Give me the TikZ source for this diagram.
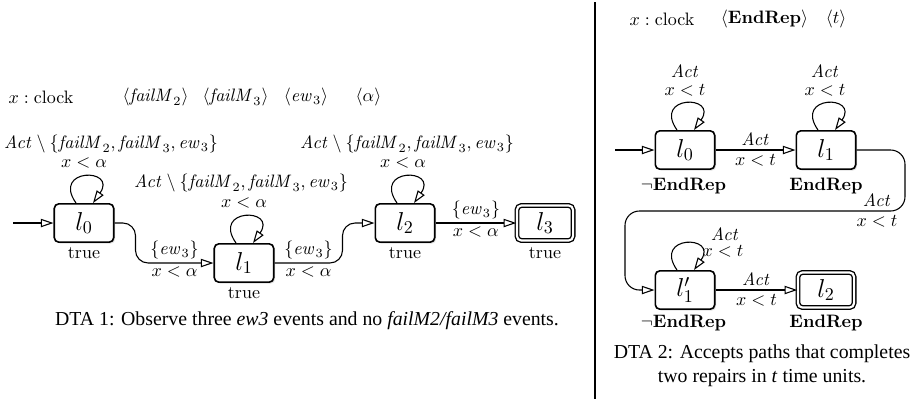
\documentclass[tikz,border=0pt]{standalone}
\usepackage[no-math]{fontspec}
\newfontfamily\capfont{Liberation Serif}
\usetikzlibrary{arrows.meta,shadows,calc}
\newcommand{\ev}[1]{\mathit{#1}}

\begin{document}
\begin{tikzpicture}[x=0.5556pt,y=-0.5556pt,
  loc/.style={draw, line width=0.9pt, rounded corners=2.5pt, fill=white,
    minimum width=33pt, minimum height=21.3pt, inner sep=0pt, font=\Large,
    drop shadow={shadow xshift=0.8pt, shadow yshift=-0.8pt, opacity=0.25}},
  final/.style={loc, double, double distance=1.2pt, line width=0.75pt,
    minimum width=31.2pt, minimum height=19.5pt},
  edge/.style={draw, line width=0.6pt, -{Triangle[open,length=7pt,width=4.6pt]}},
  lbl/.style={inner sep=0pt},
  elbl/.style={inner sep=2pt},
  captext/.style={font=\capfont\fontsize{11}{13.3}\selectfont, align=center},
  selfloop/.style={out=125, in=55, looseness=6.5}
]
\useasboundingbox (0,0) rectangle (917,399);

% ---------- DTA 1 ----------
\node[lbl] (clk1) at (41,97) {$x : \mbox{clock}$};
\node[lbl] (p1) at (155.5,97) {$\langle \ev{failM}_2\rangle$};
\node[lbl] (p2) at (235.5,97) {$\langle \ev{failM}_3\rangle$};
\node[lbl] (p3) at (306,97) {$\langle \ev{ew}_3\rangle$};
\node[lbl] (p4) at (368.5,97) {$\langle \alpha\rangle$};

\node[loc] (a0) at (84,223) {$l_0$};
\node[loc] (a1) at (244,263) {$l_1$};
\node[loc] (a2) at (405,223) {$l_2$};
\node[final] (a3) at (545,223) {$l_3$};

\node[lbl] (ta0) at (84,253) {true};
\node[lbl] (ta1) at (244,293) {true};
\node[lbl] (ta2) at (405,253) {true};
\node[lbl] (ta3) at (545,253) {true};

\coordinate (s1) at (13,223);
\draw[edge] (s1) -- (a0);

\draw[edge] ($(a0.north)+(-8,0)$) to[selfloop] ($(a0.north)+(9,0)$);
\node[lbl] (g0) at (84,163) {$x<\alpha$};
\node[lbl] (e0) at (111,144) {$\ev{Act}\setminus\{\ev{failM}_2, \ev{failM}_3, \ev{ew}_3\}$};

\draw[edge] ($(a1.north)+(-8,0)$) to[selfloop] ($(a1.north)+(9,0)$);
\node[lbl] (g1) at (244,203) {$x<\alpha$};
\node[lbl] (e1) at (241,183) {$\ev{Act}\setminus\{\ev{failM}_2, \ev{failM}_3, \ev{ew}_3\}$};

\draw[edge] ($(a2.north)+(-8,0)$) to[selfloop] ($(a2.north)+(9,0)$);
\node[lbl] (g2) at (403,163) {$x<\alpha$};
\node[lbl] (e2) at (407,144) {$\ev{Act}\setminus\{\ev{failM}_2, \ev{failM}_3, \ev{ew}_3\}$};

\draw[edge, rounded corners=7pt] (a0.east) -| ($(a1.west)+(-78,0)$)
  -- node[elbl,above]{$\{\ev{ew}_3\}$} node[elbl,below]{$x<\alpha$} (a1.west);
\draw[edge, rounded corners=7pt] (a1.east)
  -| node[pos=0.25,elbl,above]{$\{\ev{ew}_3\}$} node[pos=0.25,elbl,below]{$x<\alpha$}
     ($(a2.west)+(-32,0)$) -- (a2.west);
\draw[edge] (a2) -- node[elbl,above]{$\{\ev{ew}_3\}$} node[elbl,below]{$x<\alpha$} (a3);

\node[captext] (cap1) at (307,321)
  {DTA 1: Observe three \textit{ew3} events and no \textit{failM2/failM3} events.};

% ---------- separator ----------
\draw[line width=0.8pt] (595,2) -- (595,399);

% ---------- DTA 2 ----------
\node[lbl] (clk2) at (662,19) {$x : \mbox{clock}$};
\node[lbl] (q1) at (764.5,19) {$\langle \mathbf{EndRep}\rangle$};
\node[lbl] (q2) at (836,19) {$\langle t\rangle$};

\node[loc] (b0) at (685,150) {$l_0$};
\node[loc] (b1) at (826,150) {$l_1$};
\node[loc] (b2) at (685,290) {$l_1'$};
\node[final] (b3) at (826,290) {$l_2$};

\node[lbl] (tb0) at (683.5,186) {$\neg\mathbf{EndRep}$};
\node[lbl] (tb1) at (826,186) {$\mathbf{EndRep}$};
\node[lbl] (tb2) at (683.5,323) {$\neg\mathbf{EndRep}$};
\node[lbl] (tb3) at (826,323) {$\mathbf{EndRep}$};

\coordinate (s2) at (615,150);
\draw[edge] (s2) -- (b0);

\draw[edge] ($(b0.north)+(-8,0)$) to[selfloop] ($(b0.north)+(9,0)$);
\node[lbl] (h0) at (685,71) {$\ev{Act}$};
\node[lbl] (k0) at (685,90) {$x<t$};

\draw[edge] ($(b1.north)+(-8,0)$) to[selfloop] ($(b1.north)+(9,0)$);
\node[lbl] (h1) at (825,71) {$\ev{Act}$};
\node[lbl] (k1l) at (825,90) {$x<t$};

\draw[edge] ($(b2.north)+(-8,0)$) to[selfloop] ($(b2.north)+(9,0)$);
\node[lbl] (h2) at (725,234) {$\ev{Act}$};
\node[lbl] (k2l) at (723,251) {$x<t$};

\draw[edge] (b0) -- node[elbl,above]{$\ev{Act}$} node[elbl,below]{$x<t$} (b1);

\coordinate (w1) at (905,211);
\coordinate (w2) at (625,290);
\draw[edge, rounded corners=8pt] (b1.east) -| (w1)
  -| node[pos=0.05,elbl,above]{$\ev{Act}$} node[pos=0.05,elbl,below]{$x<t$} (w2)
  -- (b2.west);

\draw[edge] (b2) -- node[elbl,above]{$\ev{Act}$} node[elbl,below]{$x<t$} (b3);

\node[captext] (cap2) at (762,366)
  {DTA 2: Accepts paths that completes\\two repairs in \textit{t} time units.};
\end{tikzpicture}
\end{document}
